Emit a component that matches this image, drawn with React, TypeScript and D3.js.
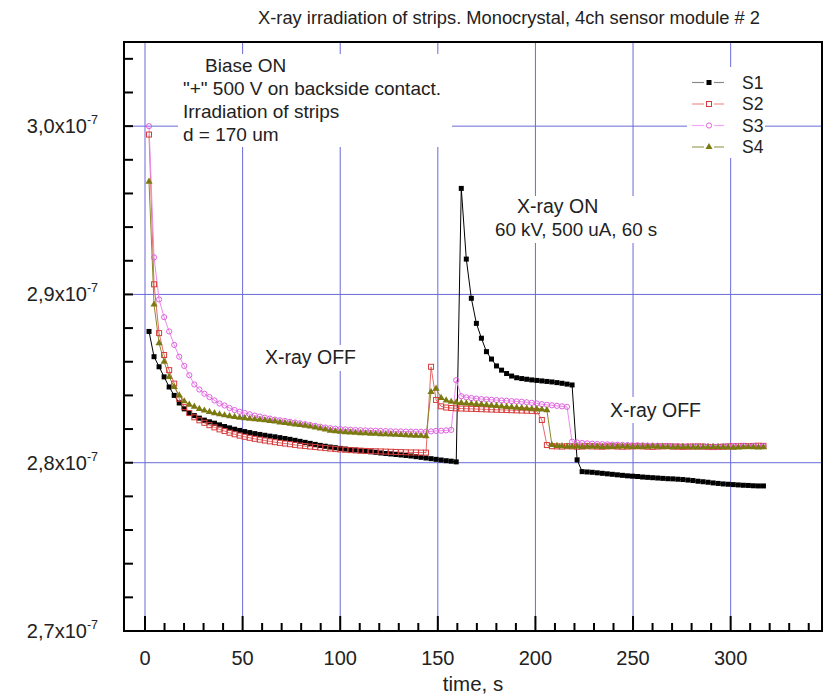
import React from "react";
import * as d3 from "d3";

// time, s
const TIME = [
  2.05, 4.63, 7.21, 9.79, 12.37, 14.95, 17.53, 20.11, 22.69, 25.27,
  27.85, 30.43, 33.01, 35.59, 38.17, 40.75, 43.33, 45.91, 48.49, 51.07,
  53.65, 56.23, 58.81, 61.39, 63.97, 66.55, 69.13, 71.71, 74.29, 76.87,
  79.45, 82.03, 84.61, 87.19, 89.77, 92.35, 94.93, 97.51, 100.09, 102.67,
  105.25, 107.83, 110.41, 112.99, 115.57, 118.15, 120.73, 123.31, 125.89, 128.47,
  131.05, 133.63, 136.21, 138.79, 141.37, 143.95, 146.53, 149.11, 151.69, 154.27,
  156.85, 159.43, 162.01, 164.59, 167.17, 169.75, 172.33, 174.91, 177.49, 180.07,
  182.65, 185.23, 187.81, 190.39, 192.97, 195.55, 198.13, 200.71, 203.29, 205.87,
  208.45, 211.03, 213.61, 216.19, 218.77, 221.35, 223.93, 226.51, 229.09, 231.67,
  234.25, 236.83, 239.41, 241.99, 244.57, 247.15, 249.73, 252.31, 254.89, 257.47,
  260.05, 262.63, 265.21, 267.79, 270.37, 272.95, 275.53, 278.11, 280.69, 283.27,
  285.85, 288.43, 291.01, 293.59, 296.17, 298.75, 301.33, 303.91, 306.49, 309.07,
  311.65, 314.23, 316.81,
];

// values in units of 1e-7
const S1 = [
  2.878, 2.863, 2.857, 2.851, 2.845, 2.840, 2.8355, 2.832, 2.8295, 2.828,
  2.8265, 2.8253, 2.8243, 2.8235, 2.8225, 2.8215, 2.8207, 2.8199, 2.8192, 2.8185,
  2.8179, 2.8173, 2.8168, 2.8163, 2.8158, 2.8154, 2.8149, 2.8144, 2.8139, 2.8133,
  2.8127, 2.8121, 2.8115, 2.8109, 2.8103, 2.8098, 2.8093, 2.8089, 2.8085, 2.8081,
  2.8078, 2.8075, 2.8071, 2.8068, 2.8065, 2.8062, 2.8058, 2.8055, 2.8052, 2.8049,
  2.8046, 2.8043, 2.8040, 2.8036, 2.8032, 2.8028, 2.8024, 2.8020, 2.8016, 2.8012,
  2.8009, 2.8005, 2.963, 2.921, 2.8977, 2.8828, 2.874, 2.866, 2.8616, 2.8575,
  2.855, 2.853, 2.8515, 2.8505, 2.850, 2.8496, 2.8492, 2.8489, 2.8486, 2.8483,
  2.8480, 2.8476, 2.8472, 2.8467, 2.8462, 2.8017, 2.7947, 2.7945, 2.7943, 2.7940,
  2.7937, 2.7934, 2.7931, 2.7928, 2.7925, 2.7922, 2.7920, 2.7918, 2.7915, 2.7913,
  2.7911, 2.7909, 2.7907, 2.7905, 2.7904, 2.7902, 2.7900, 2.7897, 2.7894, 2.7890,
  2.7887, 2.7884, 2.7880, 2.7877, 2.7874, 2.7872, 2.7870, 2.7868, 2.7866, 2.7865,
  2.7863, 2.7862, 2.7862,
];

const S2 = [
  2.995, 2.906, 2.877, 2.864, 2.855, 2.847, 2.838, 2.833, 2.8295, 2.827,
  2.8252, 2.8237, 2.8223, 2.8210, 2.8198, 2.8188, 2.8178, 2.8169, 2.8161, 2.8154,
  2.8148, 2.8142, 2.8137, 2.8132, 2.8127, 2.8122, 2.8118, 2.8114, 2.8110, 2.8106,
  2.8102, 2.8099, 2.8096, 2.8093, 2.8090, 2.8087, 2.8084, 2.8081, 2.8079, 2.8077,
  2.8075, 2.8073, 2.8072, 2.8070, 2.8069, 2.8068, 2.8067, 2.8066, 2.8065, 2.8064,
  2.8063, 2.8062, 2.8061, 2.8061, 2.8060, 2.8060, 2.857, 2.8373, 2.8335, 2.8328,
  2.8325, 2.8323, 2.8322, 2.8321, 2.8320, 2.8319, 2.8318, 2.8317, 2.8316, 2.8315,
  2.8314, 2.8313, 2.8312, 2.8311, 2.8310, 2.8309, 2.8308, 2.8306, 2.8254, 2.8105,
  2.8098, 2.8097, 2.8096, 2.8098, 2.8097, 2.8095, 2.8096, 2.8098, 2.8097, 2.8096,
  2.8095, 2.8097, 2.8098, 2.8096, 2.8095, 2.8096, 2.8097, 2.8098, 2.8097, 2.8095,
  2.8094, 2.8096, 2.8097, 2.8098, 2.8096, 2.8095, 2.8094, 2.8095, 2.8096, 2.8097,
  2.8096, 2.8094, 2.8093, 2.8094, 2.8095, 2.8097, 2.8098, 2.8099, 2.8100, 2.8099,
  2.8100, 2.8101, 2.8100,
];

const S3 = [
  3.000, 2.922, 2.897, 2.8865, 2.878, 2.870, 2.863, 2.8575, 2.852, 2.8465,
  2.8435, 2.841, 2.839, 2.837, 2.8352, 2.834, 2.8325, 2.8313, 2.8303, 2.8295,
  2.8288, 2.8280, 2.8274, 2.8268, 2.8262, 2.8256, 2.8252, 2.8248, 2.8243, 2.8239,
  2.8234, 2.8229, 2.8224, 2.8219, 2.8214, 2.8209, 2.8205, 2.8202, 2.8200, 2.8198,
  2.8196, 2.8194, 2.8193, 2.8192, 2.8191, 2.8190, 2.8189, 2.8188, 2.8187, 2.8186,
  2.8186, 2.8185, 2.8185, 2.8184, 2.8184, 2.8184, 2.8186, 2.8189, 2.8190, 2.8192,
  2.8195, 2.849, 2.8395, 2.8388, 2.8384, 2.8381, 2.8378, 2.8376, 2.8374, 2.8372,
  2.8370, 2.8368, 2.8366, 2.8364, 2.8362, 2.8359, 2.8356, 2.8352, 2.8348, 2.8344,
  2.8341, 2.8338, 2.8335, 2.8332, 2.8125, 2.8120, 2.8117, 2.8115, 2.8113, 2.8111,
  2.8110, 2.8109, 2.8108, 2.8107, 2.8106, 2.8105, 2.8104, 2.8104, 2.8103, 2.8102,
  2.8102, 2.8101, 2.8100, 2.8100, 2.8099, 2.8099, 2.8098, 2.8098, 2.8097, 2.8097,
  2.8097, 2.8096, 2.8096, 2.8096, 2.8097, 2.8098, 2.8099, 2.8100, 2.8100, 2.8099,
  2.8099, 2.8100, 2.8099,
];

const S4 = [
  2.967, 2.894, 2.871, 2.860, 2.851, 2.845, 2.840, 2.8365, 2.8345, 2.8333,
  2.832, 2.831, 2.8302, 2.8294, 2.8288, 2.8282, 2.8277, 2.8272, 2.8268, 2.8265,
  2.8261, 2.8258, 2.8255, 2.8252, 2.8248, 2.8245, 2.8240, 2.8236, 2.8232, 2.8228,
  2.8224, 2.8220, 2.8215, 2.8209, 2.8203, 2.8197, 2.8191, 2.8187, 2.8184, 2.8182,
  2.8180, 2.8178, 2.8176, 2.8175, 2.8173, 2.8172, 2.8170, 2.8169, 2.8168, 2.8166,
  2.8165, 2.8164, 2.8162, 2.8161, 2.8160, 2.8158, 2.8420, 2.8440, 2.8385, 2.8370,
  2.8362, 2.8358, 2.8355, 2.8352, 2.8350, 2.8348, 2.8346, 2.8343, 2.8340, 2.8338,
  2.8335, 2.8332, 2.8330, 2.8327, 2.8325, 2.8322, 2.8320, 2.8318, 2.8316, 2.8312,
  2.8105, 2.8100, 2.8098, 2.8096, 2.8095, 2.8096, 2.8094, 2.8095, 2.8096, 2.8095,
  2.8094, 2.8093, 2.8094, 2.8095, 2.8096, 2.8095, 2.8094, 2.8093, 2.8094, 2.8095,
  2.8096, 2.8095, 2.8094, 2.8093, 2.8092, 2.8093, 2.8094, 2.8093, 2.8092, 2.8091,
  2.8092, 2.8093, 2.8094, 2.8093, 2.8092, 2.8091, 2.8090, 2.8091, 2.8092, 2.8093,
  2.8092, 2.8091, 2.8092,
];

const SERIES_NAMES = ["S1", "S2", "S3", "S4"];
const X_MAJOR_TICKS = [0, 50, 100, 150, 200, 250, 300];
const Y_MAJOR_TICKS = [2.7, 2.8, 2.9, 3.0];
const Y_TICK_LABELS = ["2,7", "2,8", "2,9", "3,0"];
const TITLE = "X-ray irradiation of strips. Monocrystal, 4ch sensor module # 2";
const X_LABEL = "time, s";
const NOTE_LINES = ['"+" 500 V on backside contact.', "Irradiation of strips", "d = 170 um"];

const FONT = "'Liberation Sans', Arial, Helvetica, sans-serif";

const STYLES = [
  { line: "#000000", legendLine: "#8a8a8a", marker: "square", stroke: "#000", fill: "#000" },
  { line: "#e46a6a", legendLine: "#f09090", marker: "square", stroke: "#d83c3c", fill: "none" },
  { line: "#ea8aea", legendLine: "#f0a8f0", marker: "circle", stroke: "#e060e0", fill: "none" },
  { line: "#8a8a28", legendLine: "#9aa058", marker: "triangle", stroke: "#7a7a10", fill: "#7a7a10" },
];

function Marker({ type, cx, cy, stroke, fill }: any) {
  if (type === "square") {
    const s = 5;
    return <rect x={cx - s / 2} y={cy - s / 2} width={s} height={s} fill={fill} stroke={stroke} strokeWidth={fill === "none" ? 1 : 0} />;
  }
  if (type === "circle") {
    return <circle cx={cx} cy={cy} r={2.6} fill={fill} stroke={stroke} strokeWidth={1} />;
  }
  const p = d3.symbol().type(d3.symbolTriangle).size(22)() as string;
  return <path d={p} transform={`translate(${cx},${cy})`} fill={fill} />;
}

export default function App() {
  const W = 827, H = 697;
  const left = 124, right = 822, top = 42, bottom = 631;
  const x = d3.scaleLinear().domain([-10.76, 346.8]).range([left, right]);
  const y = d3.scaleLinear().domain([2.7, 3.05]).range([bottom, top]);
  const gridColor = "#6a6ad8";

  const data = [S1, S2, S3, S4];
  const line = d3.line<number>().x((_, i) => x(TIME[i])).y((d) => y(d));

  const xMinor = d3.range(0, 341, 10).filter((v) => v % 50 !== 0);
  const yMinor = d3.range(0, 18).map((k) => 2.7 + k * 0.02).filter((v) => v < 3.05);

  const legendY = [82.5, 104, 125.5, 147];
  const axisFs = 20;
  const noteFs = 19;

  // white boxes behind text objects (hide grid lines as in the original)
  const boxes = [
    [178, 54, 274, 93],
    [687, 67, 78, 91],
    [490, 196, 182, 47],
    [606, 397, 101, 26],
    [261, 345, 101, 26],
  ];

  return (
    <svg width={W} height={H} style={{ position: "absolute", left: 0, top: 0, background: "#fff" }} fontFamily={FONT}>
      <rect x={0} y={0} width={W} height={H} fill="#fff" />
      {/* grid */}
      {X_MAJOR_TICKS.map((t) => (
        <line key={"gx" + t} x1={x(t)} x2={x(t)} y1={top} y2={bottom} stroke={gridColor} strokeWidth={1} />
      ))}
      {Y_MAJOR_TICKS.filter((v) => v > 2.7).map((v) => (
        <line key={"gy" + v} x1={left} x2={right} y1={y(v)} y2={y(v)} stroke={gridColor} strokeWidth={1} />
      ))}
      {boxes.map((b, k) => (
        <rect key={"bx" + k} x={b[0]} y={b[1]} width={b[2]} height={b[3]} fill="#fff" />
      ))}

      {/* series */}
      {data.map((vals, si) => (
        <path key={"l" + si} d={line(vals) as string} fill="none" stroke={STYLES[si].line} strokeWidth={1} />
      ))}
      {data.map((vals, si) => (
        <g key={"m" + si}>
          {vals.map((v, i) => (
            <Marker key={i} type={STYLES[si].marker} cx={x(TIME[i])} cy={y(v)} stroke={STYLES[si].stroke} fill={STYLES[si].fill} />
          ))}
        </g>
      ))}

      {/* frame */}
      <rect x={left} y={top} width={right - left} height={bottom - top} fill="none" stroke="#000" strokeWidth={2} />

      {/* x ticks */}
      {X_MAJOR_TICKS.map((t) => (
        <line key={"xt" + t} x1={x(t)} x2={x(t)} y1={bottom} y2={bottom - 15} stroke="#000" strokeWidth={2} />
      ))}
      {xMinor.map((t) => (
        <line key={"xm" + t} x1={x(t)} x2={x(t)} y1={bottom} y2={bottom - 8} stroke="#000" strokeWidth={2} />
      ))}
      {X_MAJOR_TICKS.map((t) => (
        <text key={"xl" + t} x={x(t)} y={665} textAnchor="middle" fontSize={axisFs} fill="#222">{t}</text>
      ))}
      <text x={(left + right) / 2} y={691} textAnchor="middle" fontSize={20.5} fill="#222">{X_LABEL}</text>

      {/* y ticks */}
      {yMinor.map((v, k) => (
        <line key={"yt" + k} x1={left} x2={left + 9} y1={y(v)} y2={y(v)} stroke="#000" strokeWidth={2} />
      ))}
      {Y_MAJOR_TICKS.map((v, k) => (
        <text key={"yl" + k} x={98} y={y(v) + 7} textAnchor="end" fontSize={axisFs} fill="#222">
          {Y_TICK_LABELS[k]}x10<tspan dy={-9} fontSize={12.5}>-7</tspan>
        </text>
      ))}

      {/* title */}
      <text x={760} y={24} textAnchor="end" fontSize={18.3} fill="#222">{TITLE}</text>

      {/* annotations */}
      <text x={205} y={72} fontSize={noteFs} fill="#222">Biase ON</text>
      {NOTE_LINES.map((s, k) => (
        <text key={"n" + k} x={183} y={95 + k * 23} fontSize={noteFs} fill="#222">{s}</text>
      ))}
      <text x={265} y={364} fontSize={19.5} fill="#222">X-ray OFF</text>
      <text x={517} y={213} fontSize={19.5} fill="#222">X-ray ON</text>
      <text x={495} y={236} fontSize={18.8} fill="#222">60 kV, 500 uA, 60 s</text>
      <text x={610} y={417} fontSize={19.5} fill="#222">X-ray OFF</text>

      {/* legend */}
      {SERIES_NAMES.map((n, k) => (
        <g key={"lg" + k}>
          <line x1={692} x2={724} y1={legendY[k]} y2={legendY[k]} stroke={STYLES[k].legendLine} strokeWidth={1.2} />
          <rect x={704} y={legendY[k] - 4} width={10} height={8} fill="#fff" />
          <Marker type={STYLES[k].marker} cx={709} cy={legendY[k]} stroke={STYLES[k].stroke} fill={STYLES[k].fill} />
          <text x={742} y={legendY[k] + 6} fontSize={17.5} fill="#222">{n}</text>
        </g>
      ))}
    </svg>
  );
}
